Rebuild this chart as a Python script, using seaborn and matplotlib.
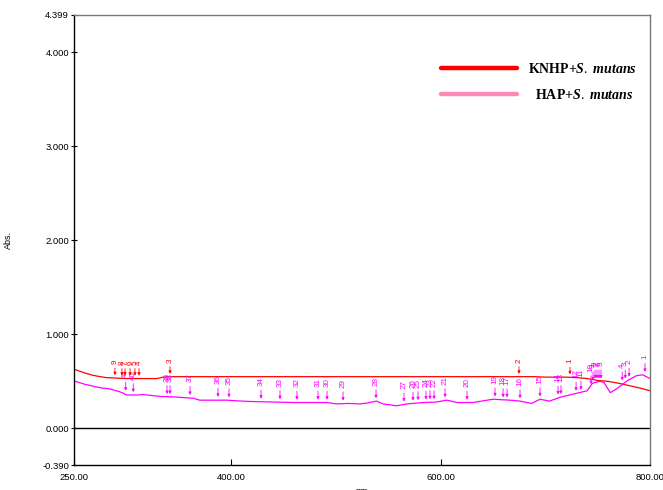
import matplotlib
matplotlib.use("Agg")
import matplotlib.pyplot as plt
from matplotlib.lines import Line2D
from matplotlib.ticker import FixedLocator, FuncFormatter
import seaborn as sns

# KNHP + S. mutans (red curve)
knhp_nm = [250, 260, 268, 275, 281, 290, 300, 320, 329, 335, 345, 400, 500, 600,
           690, 700, 720, 730, 740, 750, 760, 770, 778, 790, 800]
knhp_abs = [0.63, 0.59, 0.565, 0.55, 0.54, 0.535, 0.53, 0.53, 0.53, 0.545, 0.55, 0.55,
            0.55, 0.55, 0.55, 0.545, 0.545, 0.54, 0.53, 0.51, 0.50, 0.48, 0.46, 0.43, 0.40]

# HAP + S. mutans (magenta curve)
hap_nm = [250, 260, 268, 276, 284, 292, 296, 300, 310, 316, 332, 345, 364, 370, 385,
          396, 410, 421, 440, 459, 475, 491, 501, 512, 523, 530, 539, 545, 558, 568,
          584, 596, 606, 616, 631, 650, 666, 676, 687, 695, 704, 714, 727, 740, 745,
          752, 756, 762, 768, 778, 787, 793, 800]
hap_abs = [0.505, 0.47, 0.45, 0.43, 0.42, 0.395, 0.38, 0.355, 0.355, 0.36, 0.34, 0.335,
           0.32, 0.30, 0.30, 0.30, 0.29, 0.285, 0.28, 0.275, 0.275, 0.275, 0.26, 0.265,
           0.26, 0.27, 0.29, 0.26, 0.24, 0.26, 0.275, 0.28, 0.30, 0.275, 0.275, 0.31,
           0.30, 0.29, 0.265, 0.31, 0.29, 0.33, 0.365, 0.40, 0.48, 0.50, 0.49, 0.38,
           0.42, 0.505, 0.56, 0.57, 0.53]

# peak picks (numbered from the right)
knhp_peak_nm = [723.6, 674.9, 341.7, 312.1, 308.2, 303.5, 298.7, 295.8, 289.1]
knhp_peak_abs = [0.545, 0.55, 0.55, 0.53, 0.53, 0.53, 0.53, 0.53, 0.535]

hap_peak_nm = [795.2, 780.0, 776.4, 773.5, 753.2, 751.3, 749.4, 747.5, 745.6, 743.7,
               734.1, 729.4, 715.0, 712.2, 695.0, 675.9, 663.5, 659.7, 652.0, 625.3,
               604.3, 593.8, 589.9, 586.1, 578.5, 573.7, 565.1, 538.4, 506.9, 491.6,
               483.0, 462.9, 446.7, 428.6, 398.0, 387.5, 360.8, 341.7, 338.8, 306.6,
               299.4]
hap_peak_abs = [0.57, 0.52, 0.50, 0.48, 0.50, 0.50, 0.50, 0.50, 0.48, 0.44,
                0.38, 0.37, 0.335, 0.33, 0.31, 0.29, 0.30, 0.30, 0.31, 0.275,
                0.30, 0.28, 0.28, 0.275, 0.27, 0.265, 0.255, 0.29, 0.265, 0.275,
                0.275, 0.275, 0.28, 0.285, 0.30, 0.305, 0.325, 0.335, 0.335, 0.355,
                0.37]

x_ticks = [250, 400, 600, 800]
y_ticks = [-0.390, 0.0, 1.0, 2.0, 3.0, 4.0, 4.399]

RED = "#ff0000"
MAGENTA = "#ff00ff"
PINK_LEG = "#ff88bb"

sns.set_theme(style="white")
plt.rcParams["font.family"] = ["Liberation Sans", "DejaVu Sans"]
plt.rcParams["text.color"] = "black"
plt.rcParams["axes.labelcolor"] = "black"
plt.rcParams["mathtext.fontset"] = "custom"
plt.rcParams["mathtext.rm"] = "Liberation Serif"
plt.rcParams["mathtext.bf"] = "Liberation Serif:bold"
plt.rcParams["mathtext.it"] = "Liberation Serif:italic:bold"

fig = plt.figure(figsize=(6.63, 4.90), dpi=100)
ax = fig.add_axes([74 / 663, 1 - 465 / 490, 576 / 663, 450 / 490])

sns.lineplot(x=knhp_nm, y=knhp_abs, ax=ax, color=RED, lw=0.9, sort=False)
sns.lineplot(x=hap_nm, y=hap_abs, ax=ax, color=MAGENTA, lw=0.9, sort=False)
ax.axhline(0.0, color="black", lw=1.0)


def picks(nms, vals, color, lift):
    for i, (xv, yv) in enumerate(zip(nms, vals), start=1):
        ax.annotate(str(i), xy=(xv, yv + 0.03), xytext=(0, lift),
                    textcoords="offset points", rotation=90, ha="center",
                    va="bottom", fontsize=5.8, color=color,
                    arrowprops=dict(arrowstyle="-|>", color=color, lw=0.6,
                                    mutation_scale=4, shrinkA=0.5, shrinkB=0))


picks(hap_peak_nm, hap_peak_abs, MAGENTA, 9)
picks(knhp_peak_nm, knhp_peak_abs, RED, 8)

ax.set_xlim(250, 800)
ax.set_ylim(-0.390, 4.399)
ax.xaxis.set_major_locator(FixedLocator(x_ticks))
ax.yaxis.set_major_locator(FixedLocator(y_ticks))
ax.xaxis.set_major_formatter(FuncFormatter(lambda v, p: f"{v:.2f}"))
ax.yaxis.set_major_formatter(FuncFormatter(lambda v, p: f"{v:.3f}"))
ax.tick_params(axis="x", direction="in", length=4, width=0.8, pad=6,
               labelsize=6.8, colors="black", bottom=True)
ax.tick_params(axis="y", direction="inout", length=5, width=0.8, pad=1,
               labelsize=6.8, colors="black", left=True)

for side in ["left", "bottom"]:
    ax.spines[side].set_color("black")
    ax.spines[side].set_linewidth(1.0)
for side in ["top", "right"]:
    ax.spines[side].set_color("#777777")
    ax.spines[side].set_linewidth(1.0)

ax.set_ylabel("Abs.", fontsize=6.5)
ax.yaxis.set_label_coords(-0.106, 0.5)
ax.set_xlabel("nm", fontsize=6.5, labelpad=3)

handles = [Line2D([], [], color=RED, lw=3.2), Line2D([], [], color=PINK_LEG, lw=3.2)]
labels = [r"$\mathbf{KNHP{+}}\mathit{S.\ mutans}$",
          r"$\ \ \mathbf{HAP{+}}\mathit{S.\ mutans}$"]
leg = ax.legend(handles, labels, loc="upper left", bbox_to_anchor=(0.615, 0.923),
                frameon=False, fontsize=10, handlelength=5.5, handletextpad=0.8,
                labelspacing=0.85)
for t in leg.get_texts():
    t.set_color("black")

fig.savefig("out.png", dpi=100)
